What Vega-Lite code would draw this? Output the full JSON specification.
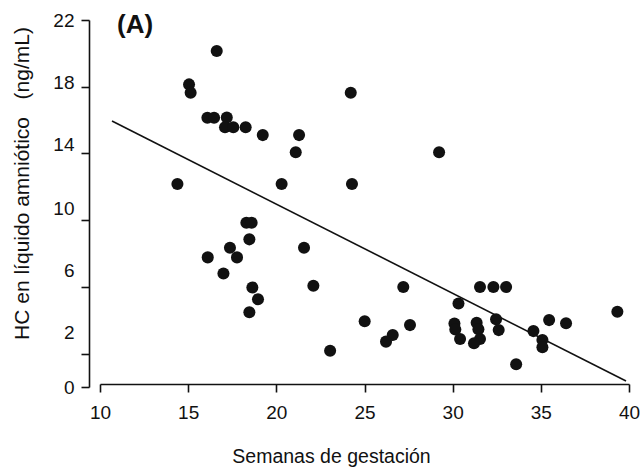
{
  "$schema": "https://vega.github.io/schema/vega-lite/v6.json",
  "width": 529,
  "height": 367,
  "autosize": {"type": "none"},
  "padding": {"left": 100, "top": 20, "right": 12, "bottom": 83},
  "background": "white",
  "title": {
    "text": "(A)",
    "anchor": "start",
    "orient": "top",
    "frame": "group",
    "baseline": "top",
    "offset": 0,
    "dx": 17,
    "dy": 27,
    "font": "Liberation Sans, Arial, sans-serif",
    "fontSize": 26,
    "fontWeight": "bold",
    "color": "#111111"
  },
  "datasets": {
    "points": [
      {"semanas": 16.62, "hc": 20.14},
      {"semanas": 15.05, "hc": 18.14},
      {"semanas": 15.14, "hc": 17.64},
      {"semanas": 24.22, "hc": 17.64},
      {"semanas": 16.09, "hc": 16.14},
      {"semanas": 16.47, "hc": 16.14},
      {"semanas": 17.19, "hc": 16.16},
      {"semanas": 17.09, "hc": 15.57},
      {"semanas": 17.56, "hc": 15.57},
      {"semanas": 18.26, "hc": 15.57},
      {"semanas": 19.23, "hc": 15.1},
      {"semanas": 21.29, "hc": 15.1},
      {"semanas": 21.1, "hc": 14.07},
      {"semanas": 14.39, "hc": 12.17},
      {"semanas": 20.3, "hc": 12.17},
      {"semanas": 24.29, "hc": 12.17},
      {"semanas": 29.23, "hc": 14.07},
      {"semanas": 18.3, "hc": 9.85},
      {"semanas": 18.6, "hc": 9.85},
      {"semanas": 18.47, "hc": 8.85},
      {"semanas": 17.37, "hc": 8.35},
      {"semanas": 16.11, "hc": 7.77},
      {"semanas": 17.77, "hc": 7.77},
      {"semanas": 17.0, "hc": 6.81},
      {"semanas": 21.57, "hc": 8.35},
      {"semanas": 18.64, "hc": 5.97},
      {"semanas": 22.1, "hc": 6.07},
      {"semanas": 18.96, "hc": 5.26},
      {"semanas": 18.47, "hc": 4.48},
      {"semanas": 25.01, "hc": 3.94},
      {"semanas": 23.05, "hc": 2.17},
      {"semanas": 27.2, "hc": 5.99},
      {"semanas": 31.55, "hc": 5.99},
      {"semanas": 32.31, "hc": 5.99},
      {"semanas": 33.03, "hc": 5.99},
      {"semanas": 30.33, "hc": 5.0},
      {"semanas": 27.58, "hc": 3.71},
      {"semanas": 26.6, "hc": 3.12},
      {"semanas": 26.22, "hc": 2.72},
      {"semanas": 30.1, "hc": 3.8},
      {"semanas": 30.15, "hc": 3.45},
      {"semanas": 30.42, "hc": 2.88},
      {"semanas": 31.36, "hc": 3.85},
      {"semanas": 31.46, "hc": 3.46},
      {"semanas": 31.55, "hc": 2.88},
      {"semanas": 31.21, "hc": 2.62},
      {"semanas": 32.46, "hc": 4.06},
      {"semanas": 32.61, "hc": 3.41},
      {"semanas": 33.6, "hc": 1.36},
      {"semanas": 34.58, "hc": 3.35},
      {"semanas": 35.09, "hc": 2.82},
      {"semanas": 35.09, "hc": 2.38},
      {"semanas": 35.47, "hc": 4.01},
      {"semanas": 36.43, "hc": 3.82},
      {"semanas": 39.34, "hc": 4.51}
    ],
    "fit": [
      {"semanas": 10.68, "hc": 15.95},
      {"semanas": 39.83, "hc": 0.36}
    ]
  },
  "encoding": {
    "x": {
      "field": "semanas",
      "type": "quantitative",
      "scale": {"domain": [10, 40], "nice": false, "zero": false},
      "axis": {
        "title": "Semanas de gestación",
        "values": [10, 15, 20, 25, 30, 35, 40],
        "offset": -3,
        "grid": false,
        "domainColor": "#111111",
        "domainWidth": 1.6,
        "tickColor": "#111111",
        "tickWidth": 1.6,
        "tickSize": 8,
        "labelFont": "Liberation Sans, Arial, sans-serif",
        "labelFontSize": 19,
        "labelColor": "#111111",
        "labelPadding": 11,
        "labelFlush": false,
        "labelOverlap": false,
        "titleFont": "Liberation Sans, Arial, sans-serif",
        "titleFontSize": 19.5,
        "titleFontWeight": "normal",
        "titleColor": "#111111",
        "titleX": 231,
        "titleY": 78,
        "titleBaseline": "alphabetic"
      }
    },
    "y": {
      "field": "hc",
      "type": "quantitative",
      "scale": {"domain": [0, 22], "nice": false, "zero": false},
      "axis": {
        "title": "HC en líquido amniótico\u00a0\u00a0\u00a0(ng/mL)",
        "values": [0, 2, 6, 10, 14, 18, 22],
        "offset": 11,
        "grid": false,
        "domainColor": "#111111",
        "domainWidth": 1.6,
        "tickColor": "#111111",
        "tickWidth": 1.6,
        "tickSize": 8,
        "labelFont": "Liberation Sans, Arial, sans-serif",
        "labelFontSize": 19,
        "labelColor": "#111111",
        "labelPadding": 7,
        "labelFlush": false,
        "labelOverlap": false,
        "labelOffset": {
          "condition": [
            {"test": "datum.value == 18", "value": -4},
            {"test": "datum.value == 14", "value": -9},
            {"test": "datum.value == 10", "value": -12},
            {"test": "datum.value == 6", "value": -16},
            {"test": "datum.value == 2", "value": -21}
          ],
          "value": 0
        },
        "titleFont": "Liberation Sans, Arial, sans-serif",
        "titleFontSize": 21,
        "titleFontWeight": "normal",
        "titleColor": "#111111",
        "titleX": -57,
        "titleY": 163
      }
    }
  },
  "layer": [
    {
      "data": {"name": "fit"},
      "mark": {"type": "line", "color": "#111111", "strokeWidth": 1.6}
    },
    {
      "data": {"name": "points"},
      "mark": {"type": "circle", "size": 145, "color": "#111111", "opacity": 1}
    }
  ],
  "config": {
    "view": {"stroke": null}
  }
}
